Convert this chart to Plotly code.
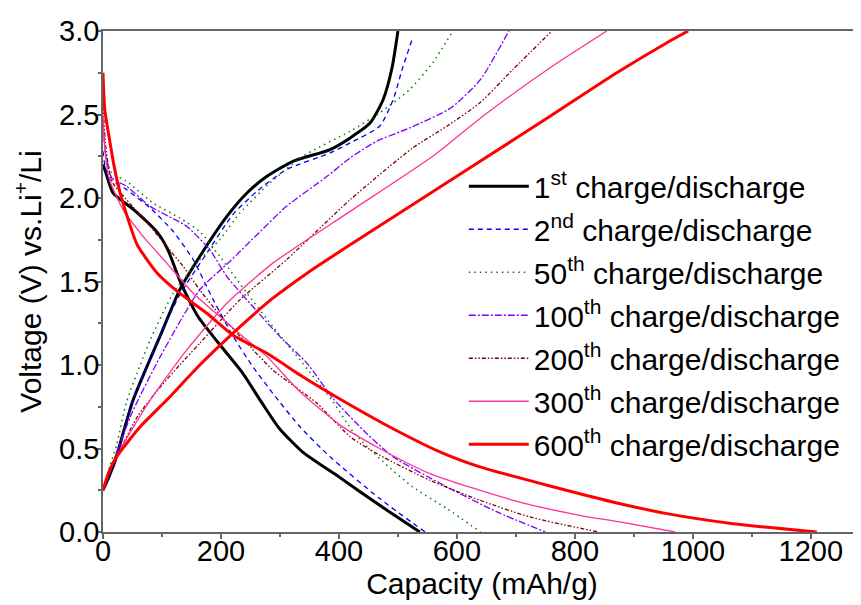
"""
Charge/discharge voltage profiles vs. capacity for selected cycles.
Output: out.html
"""
import plotly.graph_objects as go

# cycle labels
cycles = ["1<sup>st</sup>", "2<sup>nd</sup>", "50<sup>th</sup>", "100<sup>th</sup>",
          "200<sup>th</sup>", "300<sup>th</sup>", "600<sup>th</sup>"]

# discharge branches (capacity mAh/g, voltage V)
dis_1_cap = [0, 5, 17, 52, 93, 110, 132, 161, 196, 235, 270, 299, 338, 400, 469, 537]
dis_1_v = [2.2, 2.15, 2.03, 1.93, 1.79, 1.69, 1.49, 1.29, 1.13, 0.96, 0.77, 0.62, 0.48, 0.33, 0.16, 0.0]
dis_2_cap = [0, 3, 10, 40, 80, 119, 153, 187, 221, 254, 288, 334, 385, 469, 546]
dis_2_v = [2.28, 2.2, 2.12, 2.05, 1.94, 1.8, 1.63, 1.39, 1.17, 0.99, 0.83, 0.63, 0.45, 0.2, 0.0]
dis_50_cap = [0, 5, 15, 40, 85, 130, 164, 198, 244, 288, 334, 390, 424, 475, 525, 583, 640]
dis_50_v = [2.45, 2.25, 2.15, 2.1, 1.97, 1.88, 1.8, 1.65, 1.43, 1.23, 1.03, 0.78, 0.6, 0.42, 0.27, 0.14, 0.0]
dis_100_cap = [0, 5, 15, 40, 80, 142, 181, 210, 254, 300, 346, 390, 447, 492, 583, 668, 750]
dis_100_v = [2.45, 2.25, 2.12, 2.07, 1.95, 1.83, 1.69, 1.53, 1.35, 1.17, 1.01, 0.8, 0.59, 0.45, 0.27, 0.12, 0.0]
dis_200_cap = [0, 5, 15, 50, 80, 108, 136, 164, 198, 244, 288, 363, 419, 469, 554, 639, 724, 840]
dis_200_v = [2.55, 2.3, 2.1, 1.95, 1.83, 1.71, 1.59, 1.45, 1.3, 1.13, 0.97, 0.77, 0.57, 0.46, 0.31, 0.19, 0.09, 0.0]
dis_300_cap = [0, 3, 10, 34, 68, 108, 153, 198, 244, 278, 334, 402, 469, 554, 695, 808, 876, 970]
dis_300_v = [2.5, 2.3, 2.12, 1.93, 1.77, 1.61, 1.43, 1.29, 1.15, 1.05, 0.84, 0.64, 0.5, 0.35, 0.19, 0.1, 0.06, 0.0]
dis_600_cap = [0, 3, 12, 20, 29, 40, 58, 92, 130, 176, 220, 278, 334, 390, 475, 571, 639, 753, 864, 956, 1068, 1210]
dis_600_v = [2.75, 2.53, 2.33, 2.17, 2.03, 1.9, 1.72, 1.55, 1.43, 1.31, 1.18, 1.07, 0.94, 0.82, 0.65, 0.48, 0.39, 0.28, 0.18, 0.11, 0.05, 0.0]

# charge branches
chg_1_cap = [0, 10, 20, 51, 100, 130, 164, 210, 244, 278, 322, 385, 419, 453, 475, 490, 500]
chg_1_v = [0.25, 0.33, 0.42, 0.79, 1.2, 1.45, 1.65, 1.89, 2.03, 2.13, 2.22, 2.29, 2.36, 2.45, 2.59, 2.78, 3.0]
chg_2_cap = [0, 10, 20, 51, 100, 130, 176, 220, 261, 311, 385, 419, 469, 492, 508, 525]
chg_2_v = [0.25, 0.33, 0.42, 0.79, 1.2, 1.42, 1.67, 1.9, 2.04, 2.17, 2.27, 2.33, 2.43, 2.59, 2.78, 2.96]
chg_50_cap = [0, 12, 23, 40, 63, 80, 119, 164, 198, 232, 283, 339, 419, 469, 520, 559, 593]
chg_50_v = [0.25, 0.4, 0.52, 0.78, 1.0, 1.15, 1.43, 1.63, 1.75, 1.91, 2.09, 2.25, 2.4, 2.51, 2.65, 2.81, 3.0]
chg_100_cap = [0, 15, 50, 97, 164, 215, 261, 311, 380, 419, 464, 520, 590, 640, 688]
chg_100_v = [0.25, 0.4, 0.72, 1.05, 1.45, 1.62, 1.78, 1.95, 2.13, 2.24, 2.34, 2.42, 2.54, 2.71, 3.0]
chg_200_cap = [0, 10, 30, 60, 100, 130, 164, 232, 311, 419, 525, 583, 639, 695, 761]
chg_200_v = [0.25, 0.35, 0.5, 0.7, 0.88, 1.0, 1.13, 1.39, 1.63, 1.99, 2.3, 2.43, 2.57, 2.77, 3.0]
chg_300_cap = [0, 10, 30, 80, 142, 210, 288, 419, 559, 644, 758, 854]
chg_300_v = [0.25, 0.36, 0.5, 0.79, 1.09, 1.37, 1.61, 1.92, 2.25, 2.49, 2.78, 3.0]
chg_600_cap = [0, 10, 23, 63, 108, 164, 220, 288, 346, 419, 644, 758, 871, 956, 992]
chg_600_v = [0.25, 0.36, 0.45, 0.63, 0.79, 1.0, 1.19, 1.4, 1.55, 1.72, 2.23, 2.49, 2.75, 2.93, 3.0]

dis_cap = [dis_1_cap, dis_2_cap, dis_50_cap, dis_100_cap, dis_200_cap, dis_300_cap, dis_600_cap]
dis_v = [dis_1_v, dis_2_v, dis_50_v, dis_100_v, dis_200_v, dis_300_v, dis_600_v]
chg_cap = [chg_1_cap, chg_2_cap, chg_50_cap, chg_100_cap, chg_200_cap, chg_300_cap, chg_600_cap]
chg_v = [chg_1_v, chg_2_v, chg_50_v, chg_100_v, chg_200_v, chg_300_v, chg_600_v]

styles = [
    dict(color="#000000", width=3, dash="solid"),
    dict(color="#0000FF", width=1.3, dash="5px,4px"),
    dict(color="#008000", width=1.5, dash="1.5px,4px"),
    dict(color="#8000FF", width=1.3, dash="7px,2px,2px,2px"),
    dict(color="#800000", width=1.3, dash="4px,2px,1.5px,2px,1.5px,2px"),
    dict(color="#FF3399", width=1.3, dash="solid"),
    dict(color="#FF0000", width=3, dash="solid"),
]

FONT = "Liberation Sans, Arial, sans-serif"

fig = go.Figure()
for i, lab in enumerate(cycles):
    x = dis_cap[i] + [None] + chg_cap[i]
    y = dis_v[i] + [None] + chg_v[i]
    fig.add_trace(go.Scatter(
        x=x, y=y, mode="lines",
        line=dict(shape="spline", smoothing=0.6, **styles[i]),
        name=f"{lab} charge/discharge", legendgroup=str(i),
        connectgaps=False,
    ))

axis_common = dict(
    showline=True, linecolor="#666666", linewidth=1.5,
    ticks="outside", ticklen=5, tickwidth=1.5, tickcolor="#666666",
    showgrid=False, zeroline=False, automargin=False,
    tickfont=dict(family=FONT, size=29, color="#000"),
)

# page body has an 8px margin, so the figure is 8px smaller than the window
fig.update_layout(
    width=853, height=597,
    margin=dict(l=95, r=0, t=23, b=73),
    plot_bgcolor="white", paper_bgcolor="white",
    font=dict(family=FONT, size=29, color="#000"),
    xaxis=dict(
        range=[0, 1285], dtick=200, mirror=True,
        minor=dict(dtick=100, ticks="outside", ticklen=3, tickcolor="#666666"),
        ticklabelstandoff=-13,
        title=dict(text="Capacity (mAh/g)", font=dict(family=FONT, size=30), standoff=0),
        **axis_common,
    ),
    yaxis=dict(
        range=[0, 3.0], dtick=0.5, tickformat=".1f",
        minor=dict(dtick=0.25, ticks="outside", ticklen=3, tickcolor="#666666"),
        ticklabelstandoff=-9,
        title=dict(text="Voltage (V) vs.Li<sup>+</sup>/Li", font=dict(family=FONT, size=30), standoff=9),
        **axis_common,
    ),
    legend=dict(
        x=0.476, y=0.742, xanchor="left", yanchor="top",
        bgcolor="rgba(0,0,0,0)", font=dict(family=FONT, size=30),
        tracegroupgap=1, traceorder="grouped", itemwidth=60,
    ),
)

fig.write_html("out.html")
